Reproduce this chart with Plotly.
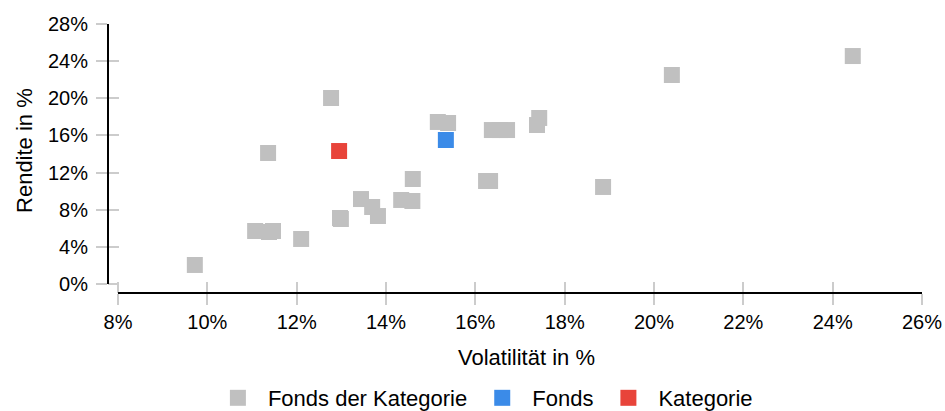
import plotly.graph_objects as go

# Data (volatility %, return %)
peer_vol = [9.72, 11.07, 11.38, 11.47, 12.10, 11.36, 12.77, 12.97, 12.99, 13.44, 13.69, 13.82,
            14.34, 14.59, 14.60, 15.16, 15.39, 16.24, 16.33, 16.37, 16.55, 16.71, 17.43, 17.38,
            18.86, 20.40, 24.45]
peer_ret = [2.05, 5.71, 5.60, 5.71, 4.85, 14.11, 20.03, 7.11, 7.00, 9.15, 8.29, 7.32,
            9.05, 8.94, 11.31, 17.45, 17.34, 11.09, 11.09, 16.58, 16.58, 16.58, 17.88, 17.12,
            10.45, 22.51, 24.55]
fund_vol = [15.34]
fund_ret = [15.51]
cat_vol = [12.95]
cat_ret = [14.32]

x_ticks = [8, 10, 12, 14, 16, 18, 20, 22, 24, 26]
y_ticks = [0, 4, 8, 12, 16, 20, 24, 28]

FONT = "Arial, Liberation Sans, sans-serif"
FS = 22
TFS = 20
GRAY = "#c0c0c0"
BLUE = "#3b8be8"
RED = "#e8443a"
TICKC = "#cccccc"

x_range = [7.776, 26]
y_range = [-0.969, 28]

fig = go.Figure()
fig.add_trace(go.Scatter(x=peer_vol, y=peer_ret, mode="markers", name="Fonds der Kategorie",
                         marker=dict(symbol="square", size=16, color=GRAY, line=dict(width=0))))
fig.add_trace(go.Scatter(x=fund_vol, y=fund_ret, mode="markers", name="Fonds",
                         marker=dict(symbol="square", size=16, color=BLUE, line=dict(width=0))))
fig.add_trace(go.Scatter(x=cat_vol, y=cat_ret, mode="markers", name="Kategorie",
                         marker=dict(symbol="square", size=16, color=RED, line=dict(width=0))))
# invisible trace to hold overlay axes (inner tick halves)
fig.add_trace(go.Scatter(x=[None], y=[None], xaxis="x2", yaxis="y2", showlegend=False,
                         hoverinfo="skip"))

fig.update_layout(
    width=945, height=411,
    margin=dict(l=108, r=23, t=24, b=118, autoexpand=False),
    paper_bgcolor="white", plot_bgcolor="white",
    font=dict(family=FONT, size=FS, color="#000000"),
    showlegend=True,
    legend=dict(orientation="h", xref="container", yref="container", x=0.511, y=0.0316,
                xanchor="center", yanchor="middle", font=dict(size=FS),
                itemwidth=50, tracegroupgap=0),
    xaxis=dict(range=x_range, tickvals=x_ticks, ticktext=[f"{v}%" for v in x_ticks],
               showgrid=False, zeroline=False, showline=False, automargin=False,
               ticks="outside", ticklen=11, tickwidth=2, tickcolor=TICKC,
               tickfont=dict(size=TFS)),
    yaxis=dict(range=y_range, tickvals=y_ticks, ticktext=[f"{v}%" for v in y_ticks],
               showgrid=False, zeroline=False, showline=False, automargin=False,
               ticks="outside", ticklen=11, tickwidth=2, tickcolor=TICKC,
               tickfont=dict(size=TFS), ticklabelstandoff=4),
    xaxis2=dict(range=x_range, overlaying="x", anchor="y", side="bottom", tickvals=x_ticks,
                showticklabels=False, showgrid=False, zeroline=False, showline=False,
                automargin=False,
                ticks="inside", ticklen=11, tickwidth=2, tickcolor=TICKC),
    yaxis2=dict(range=y_range, overlaying="y", anchor="x", side="left", tickvals=y_ticks,
                showticklabels=False, showgrid=False, zeroline=False, showline=False,
                automargin=False,
                ticks="inside", ticklen=11, tickwidth=2, tickcolor=TICKC),
    annotations=[
        dict(text="Volatilität in %", xref="paper", yref="paper", x=0.5147, y=-0.2416,
             xanchor="center", yanchor="middle", showarrow=False, font=dict(size=FS)),
        dict(text="Rendite in %", xref="paper", yref="paper", x=-0.102, y=0.5316,
             xanchor="center", yanchor="middle", showarrow=False, textangle=-90,
             font=dict(size=FS)),
    ],
)

# axis lines
fig.add_shape(type="line", xref="x", yref="paper", x0=x_ticks[0], x1=x_ticks[-1], y0=0, y1=0,
              line=dict(color="#000000", width=2))
fig.add_shape(type="line", xref="paper", yref="y", x0=0, x1=0, y0=y_ticks[0], y1=y_ticks[-1],
              line=dict(color="#000000", width=2))

fig.write_html("out.html",
               config={"displayModeBar": False},
               post_script="document.body.style.margin='0';document.body.style.overflow='hidden';")
